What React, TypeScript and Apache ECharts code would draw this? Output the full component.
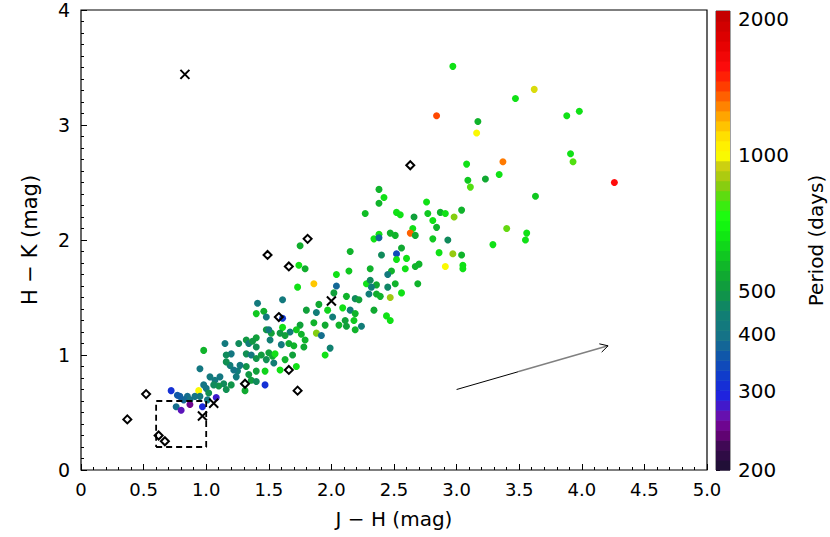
import React, { useEffect, useRef } from 'react';
import * as echarts from 'echarts';

// ---------- data ----------
const POINT_JH = [
  1.41, 1.40, 1.46, 1.48, 1.48, 1.52, 1.51, 1.40, 1.32, 1.34, 1.37, 1.40, 1.26, 1.15, 1.20, 1.16, 0.98, 1.32, 1.36, 1.40,
  1.44, 1.50, 1.53, 1.55, 1.48, 1.54, 1.59, 1.47, 1.40, 1.32, 1.27, 1.25, 1.34, 1.36, 1.40, 1.47, 1.31, 1.24, 1.22, 1.19,
  1.16, 1.20, 1.16, 1.14, 1.10, 1.07, 1.11, 1.06, 1.03, 0.95, 1.00, 1.02, 0.98, 0.94, 0.95, 0.91, 0.85, 0.87, 0.82, 0.79,
  0.77, 0.72, 0.76, 0.80, 0.87, 0.97, 1.01, 1.08, 1.75, 1.74, 1.79, 1.86, 1.73, 2.04, 2.02, 2.04, 2.14, 2.15, 2.34, 2.31,
  2.28, 2.31, 2.36, 2.30, 2.36, 2.12, 2.19, 2.22, 2.09, 2.15, 2.19, 2.34, 2.06, 2.12, 2.18, 2.19, 2.24, 2.11, 1.97, 2.01,
  1.95, 1.90, 1.88, 1.80, 1.86, 1.88, 1.92, 1.75, 1.76, 1.72, 1.67, 1.61, 1.63, 1.59, 1.50, 1.61, 1.99, 1.95, 1.79, 1.78,
  1.70, 1.66, 1.60, 1.69, 1.63, 1.72, 1.61, 3.08, 3.09, 3.11, 2.38, 2.42, 2.38, 2.27, 2.76, 2.52, 2.55, 2.66, 2.77, 2.87,
  2.91, 2.98, 3.04, 2.81, 2.84, 2.65, 2.63, 2.67, 2.38, 2.38, 2.47, 2.51, 2.81, 2.93, 2.40, 2.52, 2.56, 2.52, 2.60, 2.67,
  2.70, 2.59, 2.48, 2.45, 2.86, 2.97, 3.04, 2.91, 3.05, 3.05, 2.69, 2.51, 2.45, 2.32, 2.47, 2.56, 2.97, 3.62, 3.47, 2.84,
  3.17, 3.16, 3.88, 3.98, 3.91, 3.93, 4.26, 3.37, 3.23, 3.34, 3.63, 3.40, 3.56, 3.55, 3.29, 2.44, 2.47, 2.39,
];
const POINT_HK = [
  1.45, 1.36, 1.38, 1.33, 1.22, 1.19, 1.13, 1.15, 1.13, 1.10, 1.12, 1.07, 1.10, 1.10, 1.01, 1.00, 1.04, 1.01, 1.00, 0.97,
  1.00, 1.02, 0.99, 1.01, 0.96, 0.93, 0.87, 0.86, 0.86, 0.90, 0.91, 0.86, 0.83, 0.78, 0.77, 0.74, 0.69, 0.81, 0.87, 0.91,
  0.94, 0.74, 0.70, 0.75, 0.73, 0.78, 0.81, 0.74, 0.81, 0.88, 0.71, 0.67, 0.74, 0.69, 0.64, 0.64, 0.64, 0.61, 0.61, 0.64,
  0.65, 0.69, 0.55, 0.52, 0.57, 0.55, 0.61, 0.63, 1.95, 1.78, 1.75, 1.62, 1.59, 1.60, 1.54, 1.70, 1.73, 1.90, 2.01, 1.75,
  1.62, 1.65, 1.61, 1.53, 1.53, 1.51, 1.49, 1.48, 1.41, 1.39, 1.36, 1.39, 1.26, 1.25, 1.30, 1.22, 1.25, 1.30, 1.39, 1.33,
  1.26, 1.44, 1.37, 1.39, 1.28, 1.19, 1.17, 1.26, 1.18, 1.22, 1.20, 1.24, 1.17, 1.19, 1.22, 1.48, 1.06, 1.00, 1.13, 1.07,
  1.08, 1.10, 1.09, 1.00, 0.96, 0.90, 1.32, 2.66, 2.52, 2.46, 2.44, 2.37, 2.32, 2.23, 2.33, 2.24, 2.22, 2.20, 2.23, 2.24,
  2.23, 2.20, 2.26, 2.17, 2.11, 2.10, 2.06, 2.04, 2.05, 2.02, 2.06, 2.04, 2.01, 2.00, 1.87, 1.88, 1.93, 1.83, 1.84, 1.77,
  1.79, 1.75, 1.73, 1.70, 1.89, 1.88, 1.87, 1.77, 1.78, 1.75, 1.62, 1.62, 1.59, 1.59, 1.50, 1.54, 3.51, 3.31, 3.23, 3.08,
  3.03, 2.93, 3.08, 3.12, 2.75, 2.68, 2.50, 2.68, 2.53, 2.57, 2.38, 2.10, 2.06, 2.00, 1.96, 1.34, 1.30, 1.51,
];
const POINT_PERIOD = [
  420, 600, 550, 420, 500, 520, 440, 520, 500, 430, 500, 480, 470, 420, 410, 470, 560, 480, 420, 490,
  510, 520, 540, 650, 480, 440, 650, 620, 520, 490, 420, 430, 500, 510, 470, 310, 540, 420, 400, 430,
  480, 490, 480, 470, 490, 420, 410, 470, 420, 410, 400, 480, 400, 1000, 420, 400, 390, 400, 380, 370,
  360, 310, 390, 270, 250, 300, 410, 280, 550, 650, 550, 1150, 650, 380, 520, 650, 600, 560, 650, 560,
  650, 470, 540, 430, 550, 560, 470, 520, 650, 430, 560, 540, 560, 520, 600, 560, 430, 520, 620, 430,
  540, 540, 430, 520, 560, 850, 390, 520, 560, 600, 430, 650, 520, 500, 420, 420, 450, 650, 560, 540,
  560, 540, 420, 520, 560, 650, 320, 650, 600, 800, 560, 650, 560, 580, 650, 650, 650, 520, 600, 560,
  650, 850, 560, 650, 560, 650, 1350, 540, 650, 380, 560, 560, 600, 470, 470, 340, 540, 650, 650, 560,
  560, 650, 560, 420, 650, 870, 560, 1000, 650, 650, 560, 560, 460, 430, 880, 650, 650, 960, 650, 1400,
  560, 1000, 650, 650, 650, 800, 1550, 1300, 540, 650, 600, 820, 650, 650, 650, 650, 650, 560,
];

const OPEN_DIAMOND_JH = [0.37, 0.52, 0.62, 0.67, 1.31, 1.58, 1.66, 1.73, 1.49, 1.66, 1.81, 2.63];
const OPEN_DIAMOND_HK = [0.44, 0.66, 0.30, 0.25, 0.75, 1.33, 0.87, 0.69, 1.87, 1.77, 2.01, 2.65];
const CROSS_JH = [0.83, 2.0, 1.06, 0.97];
const CROSS_HK = [3.44, 1.47, 0.58, 0.47];
const BOX_JH = [0.6, 1.0, 1.0, 0.6, 0.6];
const BOX_HK = [0.2, 0.2, 0.6, 0.6, 0.2];
const ARROW_JH = [3.0, 4.21];
const ARROW_HK = [0.7, 1.08];
const PERIOD_TICKS = [200, 300, 400, 500, 1000, 2000];
const PERIOD_MIN = 200;
const PERIOD_MAX = 2083;

// ---------- colour map (period -> colour) ----------
const CMAP_STOPS: [number, string][] = [
  [200, '#1a1030'], [225, '#3a0a50'], [245, '#700080'], [265, '#6a10b0'], [290, '#2020e0'],
  [320, '#1038d0'], [360, '#1058a8'], [400, '#157585'], [450, '#108070'], [490, '#109448'],
  [540, '#10a830'], [600, '#10c820'], [680, '#10f010'], [730, '#18ff10'], [800, '#50e010'],
  [870, '#98c810'], [950, '#d0d010'], [1000, '#ffff00'], [1100, '#ffe000'], [1200, '#ffb000'],
  [1320, '#ff7000'], [1450, '#ff3000'], [1550, '#ff0c0c'], [1800, '#e00000'], [2083, '#c00000'],
];

const LMIN = Math.log10(PERIOD_MIN);
const LMAX = Math.log10(PERIOD_MAX);

function hex(c: string) {
  return [parseInt(c.slice(1, 3), 16), parseInt(c.slice(3, 5), 16), parseInt(c.slice(5, 7), 16)];
}
function cmapAt(lp: number) {
  const st = CMAP_STOPS.map(([p, c]) => [Math.log10(p), hex(c)] as [number, number[]]);
  if (lp <= st[0][0]) return st[0][1];
  for (let i = 1; i < st.length; i++) {
    if (lp <= st[i][0]) {
      const f = (lp - st[i - 1][0]) / (st[i][0] - st[i - 1][0]);
      return st[i - 1][1].map((v, k) => Math.round(v + (st[i][1][k] - v) * f));
    }
  }
  return st[st.length - 1][1];
}
function rgb(a: number[]) {
  return `rgb(${a[0]},${a[1]},${a[2]})`;
}

export default function App() {
  const ref = useRef<HTMLDivElement>(null);
  useEffect(() => {
    const chart = echarts.init(ref.current!, null, { renderer: 'svg' });

    const NCOL = 96;
    const vmColors: string[] = [];
    for (let i = 0; i < NCOL; i++) vmColors.push(rgb(cmapAt(LMIN + ((LMAX - LMIN) * i) / (NCOL - 1))));

    const NSTEP = 46;
    const barData: number[][] = [];
    for (let i = 0; i < NSTEP; i++) {
      const lo = LMIN + ((LMAX - LMIN) * i) / NSTEP;
      const hi = LMIN + ((LMAX - LMIN) * (i + 1)) / NSTEP;
      barData.push([0.5, lo, (lo + hi) / 2, hi]);
    }

    const pts = POINT_JH.map((x, i) => [x, POINT_HK[i], Math.log10(POINT_PERIOD[i])]);
    const diamonds = OPEN_DIAMOND_JH.map((x, i) => [x, OPEN_DIAMOND_HK[i]]);
    const crosses = CROSS_JH.map((x, i) => [x, CROSS_HK[i]]);
    const box = BOX_JH.map((x, i) => [x, BOX_HK[i]]);

    const font = 'DejaVu Sans';

    const option: any = {
      animation: false,
      backgroundColor: '#fff',
      grid: [
        { left: 81, top: 10, width: 626, height: 460, show: true, borderColor: '#000', borderWidth: 1.2, backgroundColor: 'transparent' },
        { left: 716, top: 11, width: 14, height: 459, show: true, borderColor: '#444', borderWidth: 1, backgroundColor: 'transparent' },
      ],
      xAxis: [
        {
          gridIndex: 0, type: 'value', min: 0, max: 5, interval: 0.5,
          name: 'J − H (mag)', nameLocation: 'middle', nameGap: 39,
          nameTextStyle: { fontFamily: font, fontSize: 20, color: '#000' },
          axisLine: { show: false },
          axisTick: { show: true, inside: true, length: 6, lineStyle: { color: '#000', width: 1 } },
          minorTick: { show: true, splitNumber: 5, length: 3, lineStyle: { color: '#000', width: 1 } },
          axisLabel: {
            color: '#000', fontFamily: font, fontSize: 18, margin: 10,
            formatter: (v: number) => (v === 0 ? '0' : v.toFixed(1)),
          },
          splitLine: { show: false },
        },
        { gridIndex: 1, type: 'value', min: 0, max: 1, show: false },
      ],
      yAxis: [
        {
          gridIndex: 0, type: 'value', min: 0, max: 4, interval: 1,
          name: 'H − K (mag)', nameLocation: 'middle', nameGap: 41,
          nameTextStyle: { fontFamily: font, fontSize: 21, color: '#000' },
          axisLine: { show: false },
          axisTick: { show: true, inside: true, length: 6, lineStyle: { color: '#000', width: 1 } },
          minorTick: { show: true, splitNumber: 10, length: 3, lineStyle: { color: '#000', width: 1 } },
          axisLabel: { color: '#000', fontFamily: font, fontSize: 19, lineHeight: 16, margin: 11 },
          splitLine: { show: false },
        },
        {
          gridIndex: 1, type: 'value', min: LMIN, max: LMAX, position: 'right',
          name: 'Period (days)', nameLocation: 'middle', nameGap: 76, nameRotate: 90,
          nameTextStyle: { fontFamily: font, fontSize: 20, color: '#000' },
          axisLine: { show: false },
          axisTick: {
            show: true, inside: false, length: 4,
            customValues: PERIOD_TICKS.map((p) => Math.log10(p)),
            lineStyle: { color: '#000', width: 1 },
          },
          axisLabel: {
            show: true, color: '#000', fontFamily: font, fontSize: 20, lineHeight: 18, margin: 8,
            customValues: PERIOD_TICKS.map((p) => Math.log10(p)),
            formatter: (v: number) => String(Math.round(Math.pow(10, v))),
          },
          splitLine: { show: false },
        },
      ],
      visualMap: {
        type: 'continuous', show: false, dimension: 2, min: LMIN, max: LMAX,
        seriesIndex: [0, 5], inRange: { color: vmColors },
      },
      series: [
        {
          type: 'scatter', xAxisIndex: 0, yAxisIndex: 0, data: pts,
          symbol: 'circle', symbolSize: 7, itemStyle: { opacity: 1 },
        },
        {
          type: 'line', xAxisIndex: 0, yAxisIndex: 0, data: box, symbol: 'none',
          lineStyle: { color: '#000', width: 1.8, type: [6, 4], opacity: 1 },
        },
        {
          type: 'scatter', xAxisIndex: 0, yAxisIndex: 0, data: diamonds,
          symbol: 'diamond', symbolSize: 8,
          itemStyle: { color: 'rgba(255,255,255,0)', borderColor: '#000', borderWidth: 2, opacity: 1 },
        },
        {
          type: 'scatter', xAxisIndex: 0, yAxisIndex: 0, data: crosses,
          symbol: 'path://M0,0L10,10M0,10L10,0', symbolSize: 9,
          itemStyle: { color: 'none', borderColor: '#000', borderWidth: 2, opacity: 1 },
        },
        {
          type: 'custom', xAxisIndex: 0, yAxisIndex: 0,
          data: [[ARROW_JH[0], ARROW_HK[0], ARROW_JH[1], ARROW_HK[1]]],
          encode: { x: [0, 2], y: [1, 3] },
          renderItem: (params: any, api: any) => {
            const p0 = api.coord([api.value(0), api.value(1)]);
            const p1 = api.coord([api.value(2), api.value(3)]);
            const f = 0.41;
            const pm = [p0[0] + (p1[0] - p0[0]) * f, p0[1] + (p1[1] - p0[1]) * f];
            const ang = Math.atan2(p1[1] - p0[1], p1[0] - p0[0]);
            const L = 9, a = 0.5;
            const h1 = [p1[0] - L * Math.cos(ang - a), p1[1] - L * Math.sin(ang - a)];
            const h2 = [p1[0] - L * Math.cos(ang + a), p1[1] - L * Math.sin(ang + a)];
            return {
              type: 'group',
              children: [
                { type: 'line', shape: { x1: p0[0], y1: p0[1], x2: pm[0], y2: pm[1] }, style: { stroke: '#000', lineWidth: 1 } },
                { type: 'line', shape: { x1: pm[0], y1: pm[1], x2: p1[0], y2: p1[1] }, style: { stroke: '#808080', lineWidth: 1.6 } },
                { type: 'polyline', shape: { points: [h1, p1, h2] }, style: { stroke: '#000', lineWidth: 1, fill: 'none' } },
              ],
            };
          },
        },
        {
          type: 'custom', xAxisIndex: 1, yAxisIndex: 1, data: barData,
          encode: { x: 0, y: 1 },
          renderItem: (params: any, api: any) => {
            const a = api.coord([0, api.value(3)]);
            const b = api.coord([1, api.value(1)]);
            return {
              type: 'rect',
              shape: { x: a[0], y: a[1], width: b[0] - a[0], height: b[1] - a[1] + 0.6 },
              style: { fill: api.visual('color') },
            };
          },
        },
      ],
    };
    chart.setOption(option);
    return () => chart.dispose();
  }, []);
  return <div ref={ref} style={{ position: 'fixed', left: 0, top: 0, width: 830, height: 537 }} />;
}
